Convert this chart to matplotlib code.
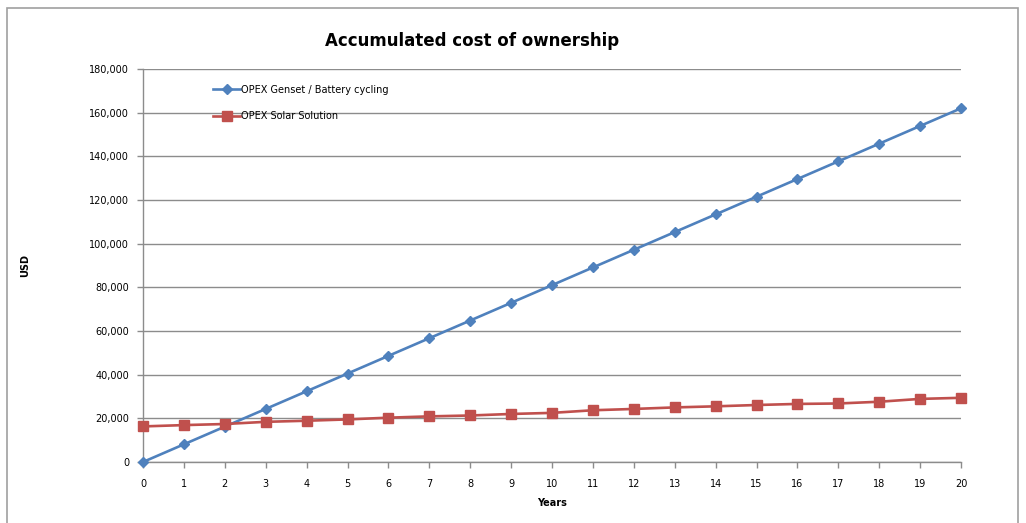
import matplotlib
matplotlib.use("Agg")
import matplotlib.pyplot as plt
from matplotlib.patches import Rectangle
from matplotlib.ticker import FuncFormatter, MultipleLocator

years = list(range(0, 21))
genset = [0, 8100, 16200, 24300, 32400, 40500, 48600, 56700, 64800, 72900,
          81000, 89100, 97200, 105300, 113400, 121500, 129600, 137700,
          145800, 153900, 162000]
solar = [16300, 16900, 17400, 18400, 18900, 19500, 20300, 20900, 21300, 22000,
         22500, 23700, 24300, 25000, 25500, 26100, 26600, 26800, 27600,
         28900, 29400]
series_names = ["OPEX Genset / Battery cycling", "OPEX Solar Solution"]
title = "Accumulated cost of ownership"
xlabel = "Years"
ylabel = "USD"

W, H = 1026, 523
fig = plt.figure(figsize=(W / 100, H / 100), dpi=100)
plt.rcParams['font.family'] = ['DejaVu Sans']

# outer chart border
fig.patches.append(Rectangle((7 / W, -0.05), (1018 - 7) / W, (H - 8) / H + 0.05,
                             transform=fig.transFigure, fill=False,
                             edgecolor='#a0a0a0', linewidth=1.2))

left, right, top, bottom = 143, 961, 69, 462
ax = fig.add_axes([left / W, 1 - bottom / H, (right - left) / W, (bottom - top) / H])

blue = '#4F81BD'
red = '#C0504D'
ax.plot(years, genset, color=blue, lw=1.9, marker='D', ms=5.5,
        label=series_names[0], zorder=3, clip_on=False)
ax.plot(years, solar, color=red, lw=1.9, marker='s', ms=6.5,
        label=series_names[1], zorder=3, clip_on=False)

ax.set_xlim(0, 20)
ax.set_ylim(0, 180000)
ax.xaxis.set_major_locator(MultipleLocator(1))
ax.yaxis.set_major_locator(MultipleLocator(20000))
ax.yaxis.set_major_formatter(FuncFormatter(lambda v, p: f"{int(v):,}"))
ax.grid(axis='y', color='#8c8c8c', lw=1.0)
ax.set_axisbelow(True)
for s in ['top', 'right']:
    ax.spines[s].set_visible(False)
for s in ['left', 'bottom']:
    ax.spines[s].set_color('#8c8c8c')
    ax.spines[s].set_linewidth(1.0)
ax.tick_params(axis='both', colors='#8c8c8c', labelcolor='black', labelsize=7,
               length=4, width=1)
ax.tick_params(axis='x', pad=8)
ax.tick_params(axis='y', pad=6)

ax.set_xlabel(xlabel, fontsize=7, fontweight='bold', labelpad=7)
ax.set_ylabel(ylabel, fontsize=7, fontweight='bold', labelpad=0)
ax.yaxis.set_label_coords((30 - left) / (right - left), 0.5)

fig.text(472 / W, 1 - 41 / H, title, fontsize=12, fontweight='bold',
         ha='center', va='center')

leg = ax.legend(loc='upper left',
                bbox_to_anchor=((209 - left) / (right - left), 1 - (81 - top) / (bottom - top)),
                frameon=False, fontsize=7, handlelength=2.8, handletextpad=0.1,
                labelspacing=1.7, borderaxespad=0)

fig.savefig("out.png", dpi=100)
